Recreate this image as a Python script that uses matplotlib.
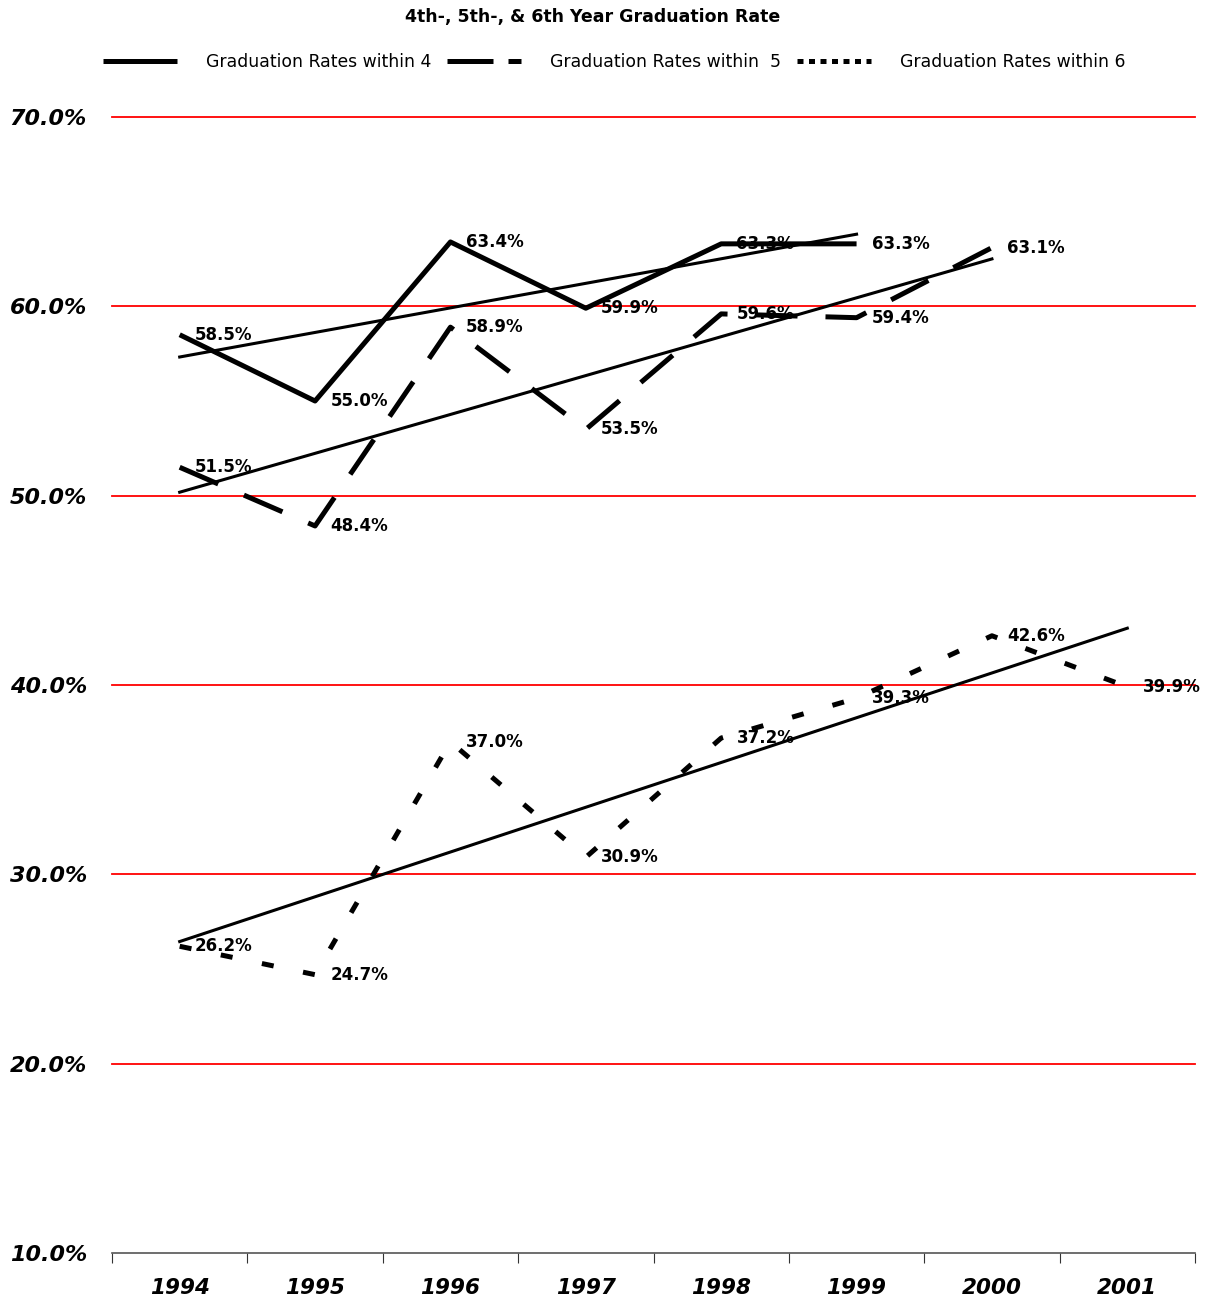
import numpy as np
import matplotlib
matplotlib.use("Agg")
import matplotlib.pyplot as plt
from matplotlib.lines import Line2D

# -----------------------------
# data
# -----------------------------
years = ["1994", "1995", "1996", "1997", "1998", "1999", "2000", "2001"]
within_4 = [58.5, 55.0, 63.4, 59.9, 63.3, 63.3]
within_5 = [51.5, 48.4, 58.9, 53.5, 59.6, 59.4, 63.1]
within_6 = [26.2, 24.7, 37.0, 30.9, 37.2, 39.3, 42.6, 39.9]
series_names = ["Graduation Rates within 4",
                "Graduation Rates within  5",
                "Graduation Rates within 6"]
y_ticks = [10, 20, 30, 40, 50, 60, 70]

fig = plt.figure(figsize=(12.05, 13), dpi=100)
ax = fig.add_axes([112 / 1205, 1 - 1253 / 1300, (1195 - 112) / 1205, (1253 - 117) / 1300])

# red gridlines (not at the bottom, that's the axis)
for v in y_ticks[1:]:
    ax.axhline(v, color="#ff0000", lw=1.3, zorder=1, clip_on=False)

# series styles: solid, long dash, short dash
styles = [dict(ls="-"),
          dict(ls=(0, (8.4, 5.6))),
          dict(ls=(0, (2.4, 6.0)))]
lw_main = 3.6

for vals, st in zip([within_4, within_5, within_6], styles):
    x = np.arange(len(vals))
    ax.plot(x, vals, color="black", lw=lw_main, solid_capstyle="butt",
            dash_capstyle="butt", zorder=3, **st)
    # linear trend line
    k, b = np.polyfit(x, vals, 1)
    ax.plot([x[0], x[-1]], [b, k * x[-1] + b], color="black", lw=2.2, zorder=3)
    for xi, v in zip(x, vals):
        ax.annotate(f"{v:.1f}%", (xi, v), xytext=(11, 0), textcoords="offset points",
                    ha="left", va="center", fontsize=12, fontweight="bold", zorder=4)

ax.set_xlim(-0.5, len(years) - 0.5)
ax.set_ylim(10, 70)

ax.set_yticks(y_ticks)
ax.set_yticklabels([f"{v:.1f}%" for v in y_ticks], fontsize=16,
                   fontweight="bold", fontstyle="italic")
ax.tick_params(axis="y", length=0, pad=18)

ax.set_xticks(np.arange(len(years)))
ax.set_xticklabels(years, fontsize=15.5, fontweight="bold", fontstyle="italic")
ax.set_xticks(np.arange(len(years) + 1) - 0.5, minor=True)
ax.tick_params(axis="x", which="major", length=0, pad=18)
ax.tick_params(axis="x", which="minor", length=7, width=0.8, color="#333333")

for s in ["top", "right", "left"]:
    ax.spines[s].set_visible(False)
ax.spines["bottom"].set_color("#555555")
ax.spines["bottom"].set_linewidth(1.2)

# title + legend
fig.text(593 / 1205, 1 - 17 / 1300, "4th-, 5th-, & 6th Year Graduation Rate",
         ha="center", va="center", fontsize=12.5, fontweight="bold")

handles = [Line2D([], [], color="black", lw=lw_main, solid_capstyle="butt"),
           Line2D([], [], color="black", lw=lw_main, ls=(0, (9.2, 3.0)), dash_capstyle="butt"),
           Line2D([], [], color="black", lw=lw_main, ls=(0, (1.2, 1.1)), dash_capstyle="butt")]
fig.legend(handles, series_names, loc="center", bbox_to_anchor=(614 / 1205, 1 - 62 / 1300),
           ncol=3, frameon=False, fontsize=12.4, handlelength=4.3,
           handletextpad=1.7, columnspacing=0.9)

fig.savefig("out.png", dpi=100)
